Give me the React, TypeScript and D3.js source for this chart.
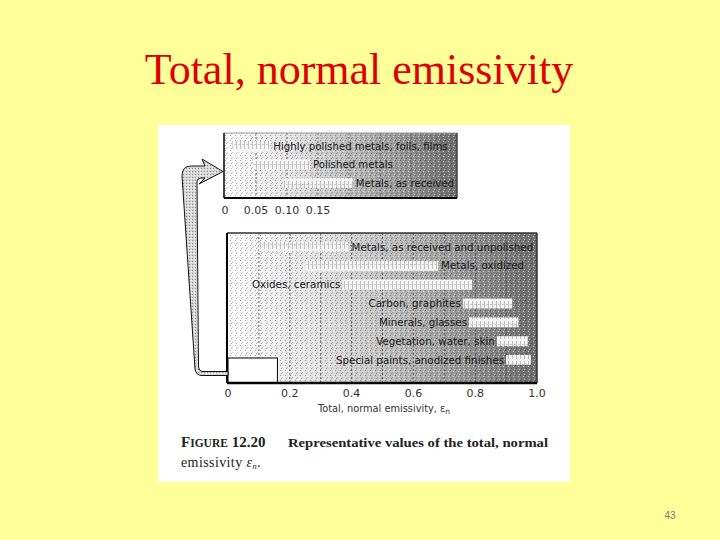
import * as d3 from "d3"

// main panel: full emissivity range 0..1
const mainCategories = [
    "Metals, as received and unpolished",
    "Metals, oxidized",
    "Oxides, ceramics",
    "Carbon, graphites",
    "Minerals, glasses",
    "Vegetation, water, skin",
    "Special paints, anodized finishes",
]
const mainLow = [0.1, 0.25, 0.37, 0.76, 0.78, 0.87, 0.9]
const mainHigh = [0.39, 0.68, 0.79, 0.92, 0.94, 0.97, 0.98]
const mainLabelSide = ["right", "right", "left", "left", "left", "left", "left"]
const mainTicks = [0, 0.2, 0.4, 0.6, 0.8, 1.0]
const mainTickLabels = ["0", "0.2", "0.4", "0.6", "0.8", "1.0"]

// zoomed panel: low emissivity metals
const topCategories = ["Highly polished metals, foils, films", "Polished metals", "Metals, as received"]
const topLow = [0.012, 0.045, 0.095]
const topHigh = [0.073, 0.137, 0.206]
const topTicks = [0, 0.05, 0.1, 0.15]
const topTickLabels = ["0", "0.05", "0.10", "0.15"]

const insetRange = [0, 0.16]

export default function App() {
    const x = d3.scaleLinear().domain([0, 1]).range([228, 537])
    const y = d3.scalePoint<string>().domain(mainCategories).range([247, 360])
    const xTop = d3.scaleLinear().domain([0, 0.15]).range([225, 318])
    const yTop = d3.scalePoint<string>().domain(topCategories).range([146, 183])

    const main = { left: 227, right: 537, top: 233, bottom: 383 }
    const top = { left: 224, right: 457, top: 133, bottom: 198 }
    const barH = 10
    const sans = "DejaVu Sans, Verdana, sans-serif"
    const serif = "Liberation Serif, Times New Roman, serif"

    const mainGrid = d3.range(1, 10).map((i) => i / 10)
    const topGrid = d3.range(1, 8).map((i) => i * 0.05)

    const arrow = "M 228 371.5 L 202 371.5 Q 199 371 198.5 367 L 197 182 Q 197 178 202 178 L 205 178 L 199 184 L 223 171.5 L 202 159 L 205 166 L 191 166 Q 182 166 182 176 L 195 369 Q 196 375.5 202 375.5 L 228 375.5 Z"

    return (
        <div style={{ position: "absolute", left: 0, top: 0 }}>
            <svg width={720} height={540} style={{ display: "block" }}>
                <defs>
                    <linearGradient id="panelGrad" x1="0" x2="1" y1="0" y2="0">
                        <stop offset="0" stopColor="#ffffff" />
                        <stop offset="0.3" stopColor="#e2e2e2" />
                        <stop offset="0.65" stopColor="#aaaaaa" />
                        <stop offset="1" stopColor="#6e6e6e" />
                    </linearGradient>
                    <pattern id="noise" width="5" height="5" patternUnits="userSpaceOnUse">
                        <rect x="0" y="0" width="1" height="1" fill="#000" opacity="0.35" />
                        <rect x="3" y="1" width="1" height="1" fill="#fff" opacity="0.6" />
                        <rect x="1" y="3" width="1" height="1" fill="#000" opacity="0.3" />
                        <rect x="4" y="4" width="1" height="1" fill="#fff" opacity="0.5" />
                        <rect x="2" y="2" width="1" height="1" fill="#555" opacity="0.3" />
                    </pattern>
                    <pattern id="barPat" width="4" height="10" patternUnits="userSpaceOnUse">
                        <rect width="4" height="10" fill="#f4f4f4" />
                        <rect x="0" y="1" width="1" height="8" fill="#a8a8a8" opacity="0.7" />
                        <rect x="2" y="4" width="2" height="1" fill="#bbb" opacity="0.7" />
                    </pattern>
                    <pattern id="arrowPat" width="3" height="3" patternUnits="userSpaceOnUse">
                        <rect width="3" height="3" fill="#d6d6d6" />
                        <rect x="0" y="0" width="1" height="1" fill="#888" />
                        <rect x="2" y="1" width="1" height="1" fill="#fff" />
                    </pattern>
                </defs>

                <rect width={720} height={540} fill="#ffff99" />

                <text x={359} y={84} textAnchor="middle" fontFamily={serif} fontSize={44} fill="#dd0000">Total, normal emissivity</text>

                {/* scanned figure */}
                <rect x={158} y={125} width={412} height={357} fill="#ffffff" />

                {/* zoomed top panel */}
                <rect x={top.left} y={top.top} width={top.right - top.left} height={top.bottom - top.top} fill="url(#panelGrad)" />
                <rect x={top.left} y={top.top} width={top.right - top.left} height={top.bottom - top.top} fill="url(#noise)" />
                {topGrid.map((g) => (
                    <line key={g} x1={xTop(g)} x2={xTop(g)} y1={top.top} y2={top.bottom}
                        stroke="#555" strokeWidth={0.8} strokeDasharray="2,2" />
                ))}
                {topCategories.map((c, i) => (
                    <g key={c}>
                        <rect x={xTop(topLow[i])} y={(yTop(c) ?? 0) - barH / 2} width={xTop(topHigh[i]) - xTop(topLow[i])}
                            height={barH} fill="url(#barPat)" />
                        <text x={xTop(topHigh[i]) + 3} y={(yTop(c) ?? 0) + 3.5} fontFamily={sans} fontSize={10.2} fill="#1a1a1a">{c}</text>
                    </g>
                ))}
                <line x1={top.left} x2={top.right} y1={top.top} y2={top.top} stroke="#999" strokeWidth={1} />
                <line x1={top.right} x2={top.right} y1={top.top} y2={top.bottom} stroke="#444" strokeWidth={1.5} />
                <line x1={top.left} x2={top.left} y1={top.top} y2={top.bottom} stroke="#000" strokeWidth={1.5} />
                <line x1={top.left} x2={top.right} y1={top.bottom} y2={top.bottom} stroke="#000" strokeWidth={2} />
                {topTicks.map((t, i) => (
                    <text key={t} x={xTop(t)} y={214} textAnchor="middle" fontFamily={sans} fontSize={11} fill="#333">{topTickLabels[i]}</text>
                ))}

                {/* main panel */}
                <rect x={main.left} y={main.top} width={main.right - main.left} height={main.bottom - main.top} fill="url(#panelGrad)" />
                <rect x={main.left} y={main.top} width={main.right - main.left} height={main.bottom - main.top} fill="url(#noise)" />
                {mainGrid.map((g) => (
                    <line key={g} x1={x(g)} x2={x(g)} y1={main.top} y2={main.bottom}
                        stroke="#444" strokeWidth={0.8} strokeDasharray="2,2" />
                ))}
                {mainCategories.map((c, i) => {
                    const cy = y(c) ?? 0
                    const right = mainLabelSide[i] === "right"
                    return (
                        <g key={c}>
                            <rect x={x(mainLow[i])} y={cy - barH / 2} width={x(mainHigh[i]) - x(mainLow[i])}
                                height={barH} fill="url(#barPat)" />
                            <text x={right ? x(mainHigh[i]) + 3 : x(mainLow[i]) - 2} y={cy + 3.5}
                                textAnchor={right ? "start" : "end"} fontFamily={sans} fontSize={10.3} fill="#1a1a1a">{c}</text>
                        </g>
                    )
                })}
                <rect x={x(insetRange[0])} y={358} width={x(insetRange[1]) - x(insetRange[0])} height={main.bottom - 358}
                    fill="#fff" stroke="#000" strokeWidth={1} />
                <line x1={main.left} x2={main.right} y1={main.top} y2={main.top} stroke="#333" strokeWidth={1.5} />
                <line x1={main.right} x2={main.right} y1={main.top} y2={main.bottom} stroke="#333" strokeWidth={1.5} />
                <line x1={main.left} x2={main.left} y1={main.top} y2={main.bottom} stroke="#000" strokeWidth={2} />
                <line x1={main.left} x2={main.right} y1={main.bottom} y2={main.bottom} stroke="#000" strokeWidth={2.5} />
                {mainTicks.map((t, i) => (
                    <text key={t} x={x(t)} y={397} textAnchor="middle" fontFamily={sans} fontSize={11} fill="#333">{mainTickLabels[i]}</text>
                ))}
                <text x={384} y={412} textAnchor="middle" fontFamily={sans} fontSize={9.8} fill="#333">
                    Total, normal emissivity, ε<tspan fontSize={7.5} dy={2}>n</tspan>
                </text>

                {/* arrow from inset box to zoomed panel */}
                <path d={arrow} fill="url(#arrowPat)" stroke="#111" strokeWidth={1} />

                {/* caption */}
                <text x={181} y={447} fontFamily={serif} fontWeight="bold" fontSize={15} fill="#222">
                    F<tspan fontSize={11.5}>IGURE</tspan> 12.20
                </text>
                <text x={288} y={447} fontFamily={serif} fontWeight="bold" fontSize={13.5}
                    fill="#222" textLength={260} lengthAdjust="spacingAndGlyphs">Representative values of the total, normal</text>
                <text x={181} y={467} fontFamily={serif} fontSize={14} fill="#222" letterSpacing={0.4}>
                    emissivity <tspan fontStyle="italic">ε</tspan><tspan fontSize={8.5} dy={2} fontStyle="italic">n</tspan><tspan dy={-2}>.</tspan>
                </text>

                <text x={670} y={519} textAnchor="middle" fontFamily="Liberation Sans, Arial, sans-serif" fontSize={10} fill="#777">43</text>
            </svg>
        </div>
    )
}
